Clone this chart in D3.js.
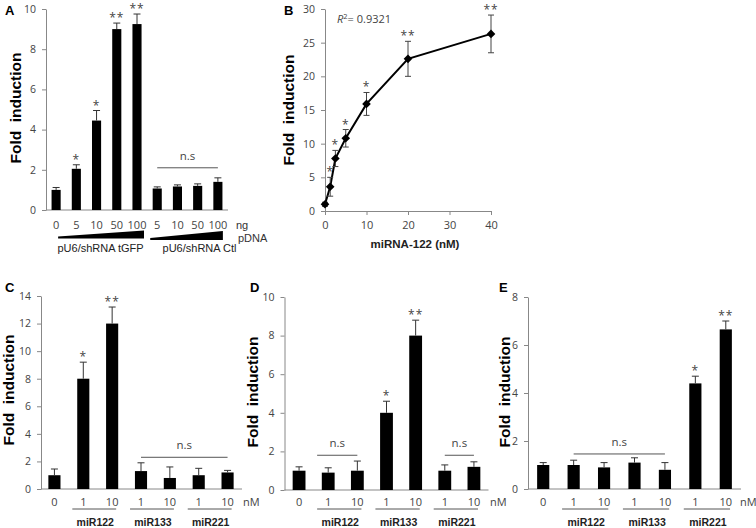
<!DOCTYPE html>
<html><head><meta charset="utf-8">
<script src="https://cdn.jsdelivr.net/npm/d3@7"></script>
<style>
body{margin:0;background:#fff}
svg{display:block}
text{font-family:"Liberation Sans",Arial,sans-serif}
.tick text{font-family:"Open Sans",sans-serif;font-size:10.5px;fill:#444}
.num{font-family:"Open Sans",sans-serif;font-size:10.5px;fill:#444}
</style></head><body>
<svg id="c" width="756" height="528"></svg>
<script>
// ---------- Panel A ----------
const aLabels = ["0","5","10","50","100","5","10","50","100"];
const aValues = [1.0,2.05,4.45,9.0,9.25,1.07,1.17,1.2,1.4];
const aErrors = [0.12,0.2,0.5,0.3,0.5,0.08,0.08,0.1,0.2];
const aStars  = ["","*","*","**","**","","","",""];
const aTicks  = [0,2,4,6,8,10];
const aGroups = ["pU6/shRNA tGFP","pU6/shRNA Ctl"];
const aUnits  = ["ng","pDNA"];

// ---------- Panel B ----------
const bDose   = [0,1.25,2.5,5,10,20,40];
const bValues = [1.0,3.6,7.8,10.8,15.9,22.6,26.3];
const bErrors = [0.3,1.4,1.2,1.3,1.7,2.6,2.8];
const bStars  = ["","*","*","*","*","**","**"];
const bYTicks = [0,5,10,15,20,25,30];
const bXTicks = [0,10,20,30,40];
const bR2     = "0.9321";
const bXTitle = "miRNA-122 (nM)";

// ---------- Panels C, D, E ----------
const cdeLabels = ["0","1","10","1","10","1","10"];
const cdeGroups = ["miR122","miR133","miR221"];
const cValues = [1.0,8.0,12.0,1.3,0.8,1.0,1.2];
const cErrors = [0.45,1.2,1.2,0.6,0.8,0.5,0.15];
const cStars  = ["","*","**","","","",""];
const cTicks  = [0,2,4,6,8,10,12,14];
const dValues = [1.0,0.9,1.0,4.0,8.0,1.0,1.2];
const dErrors = [0.2,0.25,0.5,0.6,0.8,0.3,0.26];
const dStars  = ["","","","*","**","",""];
const dTicks  = [0,2,4,6,8,10];
const eValues = [1.0,1.0,0.9,1.1,0.8,4.4,6.65];
const eErrors = [0.1,0.2,0.2,0.2,0.3,0.3,0.35];
const eStars  = ["","","","","","*","**"];
const eTicks  = [0,2,4,6,8];

const yTitle = "Fold  induction";
const svg = d3.select("#c");

function styleAxis(g){
  g.select(".domain").attr("stroke","#888");
  g.selectAll(".tick line").attr("stroke","#888");
}
function panelLetter(t,x,y){
  svg.append("text").attr("x",x).attr("y",y).attr("font-weight","bold")
    .attr("font-size",13).text(t);
}
function yLabel(x,yc){
  svg.append("text").attr("transform",`translate(${x},${yc}) rotate(-90)`)
    .attr("text-anchor","middle").attr("font-weight","bold").attr("font-size",15.5)
    .style("white-space","pre").text(yTitle);
}

function barPanel(cfg){
  const g = svg.append("g");
  const n = cfg.values.length;
  const x = d3.scaleBand().domain(d3.range(n)).range(cfg.xRange)
    .paddingInner(cfg.pad).paddingOuter(cfg.pad/2);
  const y = d3.scaleLinear().domain([0,cfg.ticks[cfg.ticks.length-1]]).range(cfg.yRange);
  const cx = i => x(i)+x.bandwidth()/2;
  g.append("g").attr("transform",`translate(${cfg.axisX},0)`)
    .call(d3.axisLeft(y).tickValues(cfg.ticks).tickSize(4).tickSizeOuter(0).tickPadding(6))
    .call(styleAxis);
  g.append("line").attr("x1",cfg.axisX).attr("x2",cfg.xRange[1])
    .attr("y1",y(0)).attr("y2",y(0)).attr("stroke","#888");
  g.selectAll("rect.bar").data(cfg.values).join("rect")
    .attr("x",(d,i)=>x(i)).attr("width",x.bandwidth())
    .attr("y",d=>y(d)).attr("height",d=>y(0)-y(d)).attr("fill","#000");
  cfg.values.forEach((v,i)=>{
    const top = y(v+cfg.errors[i]);
    g.append("line").attr("x1",cx(i)).attr("x2",cx(i)).attr("y1",y(v)).attr("y2",top)
      .attr("stroke","#333").attr("stroke-width",1);
    g.append("line").attr("x1",cx(i)-3.5).attr("x2",cx(i)+3.5).attr("y1",top).attr("y2",top)
      .attr("stroke","#333").attr("stroke-width",1);
    if(cfg.stars[i]){
      g.append("text").attr("class","num").attr("x",cx(i)).attr("y",top-1)
        .attr("text-anchor","middle").attr("letter-spacing",1)
        .style("font-size","12px").text(cfg.stars[i]);
    }
  });
  cfg.labels.forEach((t,i)=>{
    g.append("text").attr("class","num").attr("x",cx(i)).attr("y",cfg.labelY)
      .attr("text-anchor","middle").style("font-size","11px").text(t);
  });
  (cfg.ns||[]).forEach(s=>{
    const ly = y(s[2]);
    const x1 = cx(s[0])+(s[3]||0)*x.step(), x2 = cx(s[1]);
    g.append("line").attr("x1",x1).attr("x2",x2).attr("y1",ly).attr("y2",ly)
      .attr("stroke","#555");
    g.append("text").attr("class","num").attr("x",(x1+x2)/2).attr("y",ly-8)
      .attr("text-anchor","middle").style("font-size","11.5px").text("n.s");
  });
  return {x,y,cx,g};
}

function groupUnder(p,groups,startIdx){
  groups.forEach((name,k)=>{
    const i1 = startIdx + 2*k, i2 = i1+1;
    const x1 = p.cx(i1)-0.38*p.x.step(), x2 = p.cx(i2)+0.14*p.x.step();
    p.g.append("line").attr("x1",x1).attr("x2",x2).attr("y1",509).attr("y2",509)
      .attr("stroke","#555");
    p.g.append("text").attr("x",(x1+x2)/2+1).attr("y",525.5).attr("text-anchor","middle")
      .attr("font-weight","bold").attr("font-size",10.5).attr("fill","#222").text(name);
  });
}

// ===== Panel A =====
panelLetter("A",5,15);
yLabel(21,108);
const pa = barPanel({values:aValues,errors:aErrors,stars:aStars,labels:aLabels,
  ticks:aTicks,xRange:[46,228],yRange:[210,9],axisX:46,pad:0.55,labelY:229,
  ns:[[5,8,2.1]]});
function wedge(x0,x1,yb,ytl,ytr){
  pa.g.append("path").attr("d",`M${x0},${ytl}L${x1},${ytr}L${x1},${yb}L${x0},${yb}Z`).attr("fill","#000");
}
wedge(pa.cx(0)+2, pa.cx(4)+7, 238.5, 236.5, 230.5);
wedge(pa.cx(5)-7, pa.cx(8)+5, 240, 238, 231);
pa.g.append("text").attr("x",(pa.cx(0)+pa.cx(4))/2+4).attr("y",252).attr("text-anchor","middle")
  .attr("font-size",11).attr("fill","#222").text(aGroups[0]);
pa.g.append("text").attr("x",(pa.cx(5)+pa.cx(8))/2+12).attr("y",252).attr("text-anchor","middle")
  .attr("font-size",11).attr("fill","#222").text(aGroups[1]);
pa.g.append("text").attr("x",236).attr("y",229).attr("font-size",11).attr("fill","#333").text(aUnits[0]);
pa.g.append("text").attr("x",238).attr("y",242).attr("font-size",11).attr("fill","#333").text(aUnits[1]);

// ===== Panel B =====
panelLetter("B",284,15);
yLabel(294,110);
{
  const g = svg.append("g");
  const x = d3.scaleLinear().domain([0,40]).range([325,491]);
  const y = d3.scaleLinear().domain([0,30]).range([211,9]);
  g.append("g").attr("transform","translate(325,0)")
    .call(d3.axisLeft(y).tickValues(bYTicks).tickSize(4).tickSizeOuter(0).tickPadding(6))
    .call(styleAxis);
  g.append("g").attr("class","xax").attr("transform","translate(0,211)")
    .call(d3.axisBottom(x).tickValues(bXTicks).tickSize(4).tickSizeOuter(0).tickPadding(6))
    .call(styleAxis);
  g.select(".xax").selectAll(".tick text").style("font-size","11px");
  const line = d3.line().x((d,i)=>x(bDose[i])).y(d=>y(d));
  g.append("path").attr("d",line(bValues)).attr("fill","none").attr("stroke","#000").attr("stroke-width",2);
  bValues.forEach((v,i)=>{
    const px = x(bDose[i]), t = y(v+bErrors[i]), b = y(v-bErrors[i]);
    g.append("line").attr("x1",px).attr("x2",px).attr("y1",t).attr("y2",b).attr("stroke","#444");
    g.append("line").attr("x1",px-3).attr("x2",px+3).attr("y1",t).attr("y2",t).attr("stroke","#444");
    g.append("line").attr("x1",px-3).attr("x2",px+3).attr("y1",b).attr("y2",b).attr("stroke","#444");
    g.append("path").attr("transform",`translate(${px},${y(v)})`)
      .attr("d",d3.symbol(d3.symbolDiamond2,48)()).attr("fill","#000");
    if(bStars[i]){
      g.append("text").attr("class","num").attr("x",px).attr("y",t-1)
        .attr("text-anchor","middle").attr("letter-spacing",1).style("font-size","12px").text(bStars[i]);
    }
  });
  const r = g.append("text").attr("class","num").attr("x",337).attr("y",23).style("font-size","11px");
  r.append("tspan").attr("font-style","italic").text("R");
  r.append("tspan").attr("dy",-4).style("font-size","7.5px").text("2");
  r.append("tspan").attr("dy",4).text("= "+bR2);
  g.append("text").attr("x",415).attr("y",248).attr("text-anchor","middle")
    .attr("font-weight","bold").attr("font-size",11.5).attr("fill","#222").text(bXTitle);
}

// ===== Panel C =====
panelLetter("C",5,292);
yLabel(14,390);
const pc = barPanel({values:cValues,errors:cErrors,stars:cStars,labels:cdeLabels,
  ticks:cTicks,xRange:[40,242],yRange:[489,296],axisX:41,pad:0.58,labelY:506,
  ns:[[3,6,2.3]]});
groupUnder(pc,cdeGroups,1);
svg.append("text").attr("class","num").attr("x",243).attr("y",506).style("font-size","11px").text("nM");

// ===== Panel D =====
panelLetter("D",250,292);
yLabel(258,392);
const pd = barPanel({values:dValues,errors:dErrors,stars:dStars,labels:cdeLabels,
  ticks:dTicks,xRange:[284.5,488.5],yRange:[490,297],axisX:284.5,pad:0.56,labelY:506,
  ns:[[1,2,1.8,-0.38],[5,6,1.8]]});
groupUnder(pd,cdeGroups,1);
svg.append("text").attr("class","num").attr("x",490).attr("y",506).style("font-size","11px").text("nM");

// ===== Panel E =====
panelLetter("E",499,292);
yLabel(510,392);
const pe = barPanel({values:eValues,errors:eErrors,stars:eStars,labels:cdeLabels,
  ticks:eTicks,xRange:[528,741],yRange:[489,297],axisX:528,pad:0.6,labelY:506,
  ns:[[1,4,1.46]]});
groupUnder(pe,cdeGroups,1);
svg.append("text").attr("class","num").attr("x",740).attr("y",506).style("font-size","11px").text("nM");
</script>
</body></html>
